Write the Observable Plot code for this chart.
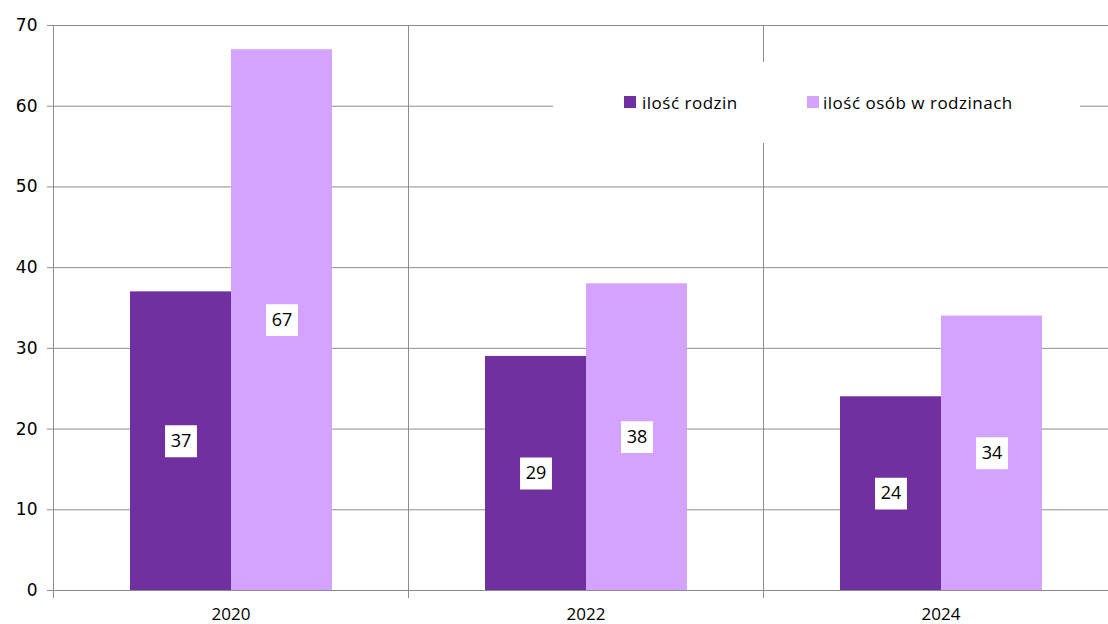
<!DOCTYPE html>
<html>
<head>
<meta charset="utf-8">
<script src="https://cdn.jsdelivr.net/npm/d3@7"></script>
<script src="https://cdn.jsdelivr.net/npm/@observablehq/plot@0.6"></script>
<style>
  html, body { margin: 0; padding: 0; background: #fff; overflow: hidden; }
  #wrap { position: relative; width: 1108px; height: 624px; overflow: hidden; }
  #legend { position: absolute; left: 553px; top: 62px; width: 527px; height: 81px; background: #fff;
    font-family: "Open Sans", sans-serif; font-size: 17px; letter-spacing: 0.5px; color: #000; }
  .sw { position: absolute; width: 12px; height: 12px; top: 34px; }
  .lt { position: absolute; top: 29px; line-height: 24px; white-space: nowrap; }
</style>
</head>
<body>
<div id="wrap"></div>
<script>
const years = ["2020", "2022", "2024"];
const seriesNames = ["ilość rodzin", "ilość osób w rodzinach"];
const rodziny = [37, 29, 24];
const osoby = [67, 38, 34];
const colors = ["#7030A0", "#D4A3FF"];
const yTicks = [0, 10, 20, 30, 40, 50, 60, 70];

const data = years.flatMap((yr, i) => [
  {year: yr, series: seriesNames[0], value: rodziny[i]},
  {year: yr, series: seriesNames[1], value: osoby[i]}
]);

const grid = "#8c8c8c";

const chart = Plot.plot({
  width: 1120,
  height: 624,
  marginLeft: 53,
  marginRight: 2,
  marginTop: 25,
  marginBottom: 34,
  style: "max-width:none; font-family:'Open Sans', sans-serif; font-size:17px; background:white;",
  fx: {domain: years, padding: 0, label: null, axis: null},
  x: {domain: seriesNames, paddingInner: 0, paddingOuter: 0.75, axis: null},
  y: {domain: [0, 70], label: null},
  color: {domain: seriesNames, range: colors},
  marks: [
    Plot.gridY(yTicks, {stroke: grid, strokeOpacity: 1}),
    Plot.frame({anchor: "left", stroke: grid, strokeOpacity: 1, insetBottom: -7}),
    Plot.barY(data, {fx: "year", x: "series", y: "value", fill: "series"}),
    Plot.dot(data, {fx: "year", x: "series", y: d => d.value / 2, symbol: "square", r: 18, fill: "white", stroke: null}),
    Plot.text(data, {fx: "year", x: "series", y: d => d.value / 2, text: d => String(d.value), fontSize: 18, fill: "black"}),
    Plot.axisY(yTicks, {tickSize: 6, tickPadding: 10, stroke: grid, fill: "black", fontSize: 17, fontFamily: "DejaVu Sans", label: null}),
    Plot.axisFx({anchor: "bottom", tickSize: 0, tickPadding: 17, fontSize: 17, fill: "black", label: null})
  ]
});

const wrap = document.getElementById("wrap");
wrap.appendChild(chart);

const legend = document.createElement("div");
legend.id = "legend";
const lx = [624 - 553, 807 - 553];
const tx = [642 - 553, 823 - 553];
seriesNames.forEach((name, i) => {
  const sw = document.createElement("div");
  sw.className = "sw";
  sw.style.left = lx[i] + "px";
  sw.style.background = colors[i];
  legend.appendChild(sw);
  const t = document.createElement("div");
  t.className = "lt";
  t.style.left = tx[i] + "px";
  t.textContent = name;
  legend.appendChild(t);
});
wrap.appendChild(legend);
</script>
</body>
</html>
